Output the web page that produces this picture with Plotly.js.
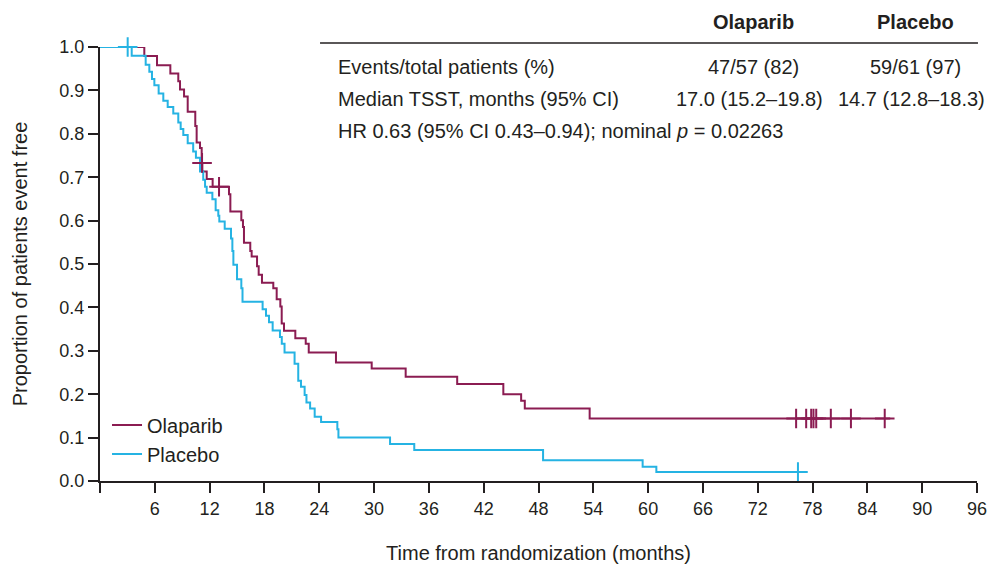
<!DOCTYPE html>
<html>
<head>
<meta charset="utf-8">
<script src="https://cdn.plot.ly/plotly-3.0.1.min.js"></script>
<style>
  html, body { margin: 0; padding: 0; background: #ffffff; }
  #chart { width: 992px; height: 568px; }
</style>
</head>
<body>
<div id="chart"></div>
<script>
// ---- Kaplan-Meier data ----
const olaTimes = [0, 4.85, 6.24, 7.7, 8.57, 8.76, 9.2, 9.6, 10.43, 10.58, 10.95, 11.13, 11.2, 11.68, 12.33, 14.12, 14.27, 15.47, 15.65, 15.76, 16.45, 16.6, 17.19, 17.37, 17.73, 18.97, 19.34, 19.74, 19.89, 20.14, 21.38, 22.52, 22.85, 25.83, 29.74, 33.46, 39.1, 44.15, 46.1, 46.5, 53.6, 86.5];
const olaSurv  = [1.0, 0.979, 0.958, 0.939, 0.921, 0.902, 0.886, 0.851, 0.818, 0.780, 0.767, 0.733, 0.713, 0.696, 0.678, 0.661, 0.621, 0.601, 0.585, 0.549, 0.530, 0.517, 0.495, 0.475, 0.457, 0.444, 0.419, 0.402, 0.363, 0.346, 0.329, 0.316, 0.296, 0.273, 0.259, 0.240, 0.2235, 0.200, 0.185, 0.167, 0.144, 0.144];
const olaCensorTimes = [11.17, 13.03, 76.2, 77.3, 77.85, 78.1, 78.4, 80.0, 82.2, 85.9];
const olaCensorSurv  = [0.733, 0.678, 0.144, 0.144, 0.144, 0.144, 0.144, 0.144, 0.144, 0.144];

const plaTimes = [0, 3.47, 5.0, 5.4, 5.69, 5.95, 6.42, 6.93, 7.41, 8.02, 8.57, 8.83, 9.12, 9.6, 10.2, 10.5, 10.95, 11.3, 11.5, 11.68, 12.3, 12.66, 12.95, 13.06, 13.65, 14.34, 14.49, 14.6, 15.0, 15.47, 15.6, 17.8, 18.17, 18.5, 18.9, 19.7, 19.9, 20.2, 21.3, 21.7, 22.0, 22.4, 22.6, 23.0, 23.5, 24.2, 25.98, 26.1, 31.75, 34.4, 48.5, 59.4, 60.9, 76.9];
const plaSurv  = [1.0, 0.980, 0.959, 0.943, 0.926, 0.912, 0.893, 0.876, 0.862, 0.847, 0.826, 0.811, 0.797, 0.778, 0.759, 0.745, 0.713, 0.694, 0.678, 0.664, 0.649, 0.624, 0.611, 0.598, 0.581, 0.559, 0.530, 0.498, 0.465, 0.444, 0.413, 0.396, 0.381, 0.366, 0.347, 0.332, 0.316, 0.296, 0.270, 0.231, 0.217, 0.198, 0.181, 0.167, 0.148, 0.136, 0.119, 0.100, 0.085, 0.0714, 0.048, 0.033, 0.0207, 0.0207];
const plaCensorTimes = [3.03, 76.4];
const plaCensorSurv  = [1.0, 0.0207];

// ---- Labels ----
const seriesNames = ["Olaparib", "Placebo"];
const xTickVals = [0, 6, 12, 18, 24, 30, 36, 42, 48, 54, 60, 66, 72, 78, 84, 90, 96];
const xTickText = ["", "6", "12", "18", "24", "30", "36", "42", "48", "54", "60", "66", "72", "78", "84", "90", "96"];
const yTickVals = [0, 0.1, 0.2, 0.3, 0.4, 0.5, 0.6, 0.7, 0.8, 0.9, 1.0];
const rowLabels = ["Events/total patients (%)", "Median TSST, months (95% CI)"];
const olaCells = ["47/57 (82)", "17.0 (15.2–19.8)"];
const plaCells = ["59/61 (97)", "14.7 (12.8–18.3)"];
const hrText = "HR 0.63 (95% CI 0.43–0.94); nominal <i>p</i> = 0.02263";

// ---- Styling ----
const OLA = "#8b1c52";
const PLA = "#25b3e3";
const INK = "#231f20";
const FONT = "Liberation Sans, Arial, Helvetica, sans-serif";

const traces = [
  { x: olaTimes, y: olaSurv, type: "scatter", mode: "lines", name: seriesNames[0],
    line: { color: OLA, width: 2, shape: "hv" } },
  { x: plaTimes, y: plaSurv, type: "scatter", mode: "lines", name: seriesNames[1],
    line: { color: PLA, width: 2, shape: "hv" } },
  { x: olaCensorTimes, y: olaCensorSurv, type: "scatter", mode: "markers", showlegend: false,
    cliponaxis: false, hoverinfo: "skip",
    marker: { symbol: "cross-thin-open", size: 14, color: OLA, line: { color: OLA, width: 2 } } },
  { x: plaCensorTimes, y: plaCensorSurv, type: "scatter", mode: "markers", showlegend: false,
    cliponaxis: false, hoverinfo: "skip",
    marker: { symbol: "cross-thin-open", size: 14, color: PLA, line: { color: PLA, width: 2 } } }
];

// Table annotations (paper coordinates)
const colX = [0.7446, 0.9304];
const rowY = [0.9539, 0.8802];
const annotations = [
  { text: "<b>" + seriesNames[0] + "</b>", x: colX[0], y: 1.0576 },
  { text: "<b>" + seriesNames[1] + "</b>", x: colX[1], y: 1.0576 }
].map(a => Object.assign(a, { xanchor: "center" }));

for (let i = 0; i < rowLabels.length; i++) {
  annotations.push({ text: rowLabels[i], x: 0.2691, y: rowY[i], xanchor: "left" });
  annotations.push({ text: olaCells[i], x: colX[0] - (i === 1 ? 0.004 : 0), y: rowY[i], xanchor: "center" });
  annotations.push({ text: plaCells[i], x: colX[1] - (i === 1 ? 0.005 : 0), y: rowY[i], xanchor: "center" });
}
annotations.push({ text: hrText, x: 0.2691, y: 0.8065, xanchor: "left" });

annotations.forEach(a => {
  a.xref = "paper"; a.yref = "paper"; a.yanchor = "middle";
  a.showarrow = false; a.font = { family: FONT, size: 20, color: INK };
});

const layout = {
  width: 992, height: 568,
  margin: { l: 100, r: 15, t: 47, b: 87 },
  paper_bgcolor: "#ffffff", plot_bgcolor: "#ffffff",
  font: { family: FONT, color: INK, size: 18 },
  showlegend: true,
  legend: {
    x: 0.008, y: 0.174, xanchor: "left", yanchor: "top",
    font: { family: FONT, size: 20, color: INK },
    bgcolor: "rgba(0,0,0,0)", tracegroupgap: 0, itemwidth: 30
  },
  xaxis: {
    range: [0, 96], tickvals: xTickVals, ticktext: xTickText,
    ticks: "outside", ticklen: 10, tickwidth: 2, tickcolor: INK,
    showline: true, linecolor: INK, linewidth: 2, showgrid: false, zeroline: false,
    tickfont: { family: FONT, size: 18, color: INK },
    title: { text: "Time from randomization (months)", font: { family: FONT, size: 20, color: INK }, standoff: 28 }
  },
  yaxis: {
    range: [0, 1], tickvals: yTickVals, tickformat: ".1f",
    ticks: "outside", ticklen: 10, tickwidth: 2, tickcolor: INK,
    showline: true, linecolor: INK, linewidth: 2, showgrid: false, zeroline: false,
    tickfont: { family: FONT, size: 18, color: INK },
    title: { text: "Proportion of patients event free", font: { family: FONT, size: 20, color: INK }, standoff: 26 }
  },
  annotations: annotations,
  shapes: [
    { type: "line", xref: "paper", yref: "paper", x0: 0.2509, x1: 1.0011, y0: 1.0092, y1: 1.0092,
      line: { color: INK, width: 1.5 } }
  ]
};

Plotly.newPlot("chart", traces, layout, { displayModeBar: false, staticPlot: true });
</script>
</body>
</html>
